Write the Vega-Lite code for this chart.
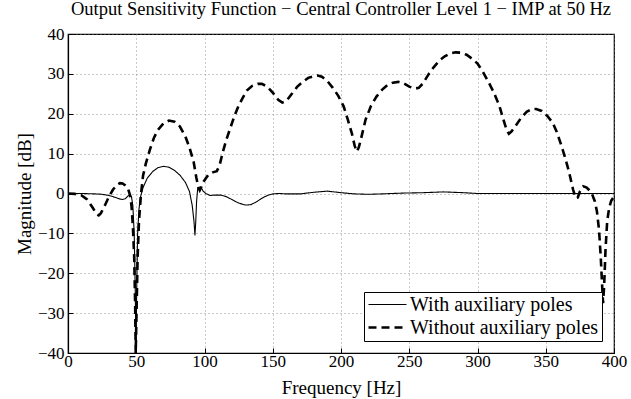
{
  "$schema": "https://vega.github.io/schema/vega-lite/v6.json",
  "autosize": {"type": "none"},
  "padding": {"left": 68, "top": 34, "right": 17, "bottom": 46},
  "width": 546,
  "height": 319,
  "background": "white",
  "title": {
    "text": "Output Sensitivity Function − Central Controller Level 1 − IMP at 50 Hz",
    "font": "Liberation Serif",
    "fontSize": 18.5,
    "fontWeight": "normal",
    "color": "black",
    "anchor": "middle",
    "offset": 7
  },
  "config": {
    "view": {"stroke": "black", "strokeWidth": 1.2},
    "axis": {
      "labelFont": "Liberation Serif",
      "labelFontSize": 17,
      "labelColor": "black",
      "titleFont": "Liberation Serif",
      "titleFontSize": 19,
      "titleFontWeight": "normal",
      "titleColor": "black",
      "domainColor": "black",
      "domainWidth": 1.2,
      "tickColor": "black",
      "tickSize": -5,
      "gridColor": "#777",
      "gridDash": [1, 3],
      "gridWidth": 0.8
    },
    "legend": {
      "labelFont": "Liberation Serif",
      "labelFontSize": 20,
      "labelColor": "black",
      "labelLimit": 400
    }
  },
  "data": {
    "values": [
      {"f": 0, "db": 0, "s": "With auxiliary poles"},
      {"f": 5, "db": 0, "s": "With auxiliary poles"},
      {"f": 10, "db": 0, "s": "With auxiliary poles"},
      {"f": 15, "db": -0.05, "s": "With auxiliary poles"},
      {"f": 20, "db": -0.1, "s": "With auxiliary poles"},
      {"f": 25, "db": -0.2, "s": "With auxiliary poles"},
      {"f": 30, "db": -0.5, "s": "With auxiliary poles"},
      {"f": 35, "db": -1.0, "s": "With auxiliary poles"},
      {"f": 38, "db": -1.4, "s": "With auxiliary poles"},
      {"f": 40, "db": -1.5, "s": "With auxiliary poles"},
      {"f": 42, "db": -1.3, "s": "With auxiliary poles"},
      {"f": 44, "db": -0.6, "s": "With auxiliary poles"},
      {"f": 45.5, "db": -0.4, "s": "With auxiliary poles"},
      {"f": 46.5, "db": -0.8, "s": "With auxiliary poles"},
      {"f": 47.5, "db": -3, "s": "With auxiliary poles"},
      {"f": 48.5, "db": -10, "s": "With auxiliary poles"},
      {"f": 49.3, "db": -25, "s": "With auxiliary poles"},
      {"f": 49.8, "db": -40, "s": "With auxiliary poles"},
      {"f": 50.3, "db": -25, "s": "With auxiliary poles"},
      {"f": 51, "db": -10, "s": "With auxiliary poles"},
      {"f": 52, "db": -4, "s": "With auxiliary poles"},
      {"f": 53, "db": -1, "s": "With auxiliary poles"},
      {"f": 55, "db": 1.5, "s": "With auxiliary poles"},
      {"f": 58, "db": 3.8, "s": "With auxiliary poles"},
      {"f": 62, "db": 5.5, "s": "With auxiliary poles"},
      {"f": 66, "db": 6.5, "s": "With auxiliary poles"},
      {"f": 70, "db": 6.8, "s": "With auxiliary poles"},
      {"f": 74, "db": 6.6, "s": "With auxiliary poles"},
      {"f": 78, "db": 5.8, "s": "With auxiliary poles"},
      {"f": 82, "db": 4.6, "s": "With auxiliary poles"},
      {"f": 86, "db": 2.8, "s": "With auxiliary poles"},
      {"f": 89, "db": 0.5, "s": "With auxiliary poles"},
      {"f": 91, "db": -3, "s": "With auxiliary poles"},
      {"f": 92.3, "db": -7, "s": "With auxiliary poles"},
      {"f": 93, "db": -10.5, "s": "With auxiliary poles"},
      {"f": 93.6, "db": -7, "s": "With auxiliary poles"},
      {"f": 94.2, "db": -2, "s": "With auxiliary poles"},
      {"f": 95, "db": 1.2, "s": "With auxiliary poles"},
      {"f": 96, "db": 1.6, "s": "With auxiliary poles"},
      {"f": 97.5, "db": 1.5, "s": "With auxiliary poles"},
      {"f": 99, "db": 0.6, "s": "With auxiliary poles"},
      {"f": 101, "db": 0, "s": "With auxiliary poles"},
      {"f": 104, "db": -0.5, "s": "With auxiliary poles"},
      {"f": 108, "db": -0.4, "s": "With auxiliary poles"},
      {"f": 112, "db": -0.4, "s": "With auxiliary poles"},
      {"f": 116, "db": -0.8, "s": "With auxiliary poles"},
      {"f": 120, "db": -1.5, "s": "With auxiliary poles"},
      {"f": 125, "db": -2.4, "s": "With auxiliary poles"},
      {"f": 130, "db": -2.9, "s": "With auxiliary poles"},
      {"f": 134, "db": -2.8, "s": "With auxiliary poles"},
      {"f": 138, "db": -2.1, "s": "With auxiliary poles"},
      {"f": 142, "db": -1.2, "s": "With auxiliary poles"},
      {"f": 146, "db": -0.5, "s": "With auxiliary poles"},
      {"f": 150, "db": -0.1, "s": "With auxiliary poles"},
      {"f": 155, "db": 0.0, "s": "With auxiliary poles"},
      {"f": 160, "db": -0.1, "s": "With auxiliary poles"},
      {"f": 170, "db": -0.1, "s": "With auxiliary poles"},
      {"f": 180, "db": 0.3, "s": "With auxiliary poles"},
      {"f": 190, "db": 0.6, "s": "With auxiliary poles"},
      {"f": 200, "db": 0.2, "s": "With auxiliary poles"},
      {"f": 210, "db": -0.1, "s": "With auxiliary poles"},
      {"f": 220, "db": -0.2, "s": "With auxiliary poles"},
      {"f": 230, "db": -0.1, "s": "With auxiliary poles"},
      {"f": 245, "db": 0.1, "s": "With auxiliary poles"},
      {"f": 260, "db": 0.2, "s": "With auxiliary poles"},
      {"f": 275, "db": 0.4, "s": "With auxiliary poles"},
      {"f": 290, "db": 0.2, "s": "With auxiliary poles"},
      {"f": 300, "db": 0, "s": "With auxiliary poles"},
      {"f": 320, "db": 0, "s": "With auxiliary poles"},
      {"f": 340, "db": 0, "s": "With auxiliary poles"},
      {"f": 360, "db": 0, "s": "With auxiliary poles"},
      {"f": 380, "db": 0, "s": "With auxiliary poles"},
      {"f": 400, "db": 0, "s": "With auxiliary poles"},

      {"f": 0, "db": 0, "s": "Without auxiliary poles"},
      {"f": 5, "db": -0.1, "s": "Without auxiliary poles"},
      {"f": 10, "db": -0.5, "s": "Without auxiliary poles"},
      {"f": 14, "db": -1.5, "s": "Without auxiliary poles"},
      {"f": 18, "db": -3.5, "s": "Without auxiliary poles"},
      {"f": 21, "db": -5.2, "s": "Without auxiliary poles"},
      {"f": 22.5, "db": -5.5, "s": "Without auxiliary poles"},
      {"f": 24, "db": -5, "s": "Without auxiliary poles"},
      {"f": 27, "db": -3, "s": "Without auxiliary poles"},
      {"f": 30, "db": -0.8, "s": "Without auxiliary poles"},
      {"f": 33, "db": 1.0, "s": "Without auxiliary poles"},
      {"f": 36, "db": 2.2, "s": "Without auxiliary poles"},
      {"f": 38, "db": 2.6, "s": "Without auxiliary poles"},
      {"f": 40, "db": 2.5, "s": "Without auxiliary poles"},
      {"f": 42, "db": 2, "s": "Without auxiliary poles"},
      {"f": 44, "db": 1.2, "s": "Without auxiliary poles"},
      {"f": 45.5, "db": -0.5, "s": "Without auxiliary poles"},
      {"f": 46.5, "db": -3, "s": "Without auxiliary poles"},
      {"f": 47.5, "db": -8, "s": "Without auxiliary poles"},
      {"f": 48.5, "db": -16, "s": "Without auxiliary poles"},
      {"f": 49.2, "db": -28, "s": "Without auxiliary poles"},
      {"f": 49.6, "db": -40, "s": "Without auxiliary poles"},
      {"f": 50.2, "db": -30, "s": "Without auxiliary poles"},
      {"f": 51, "db": -16, "s": "Without auxiliary poles"},
      {"f": 52, "db": -7, "s": "Without auxiliary poles"},
      {"f": 53.5, "db": 0, "s": "Without auxiliary poles"},
      {"f": 55, "db": 4.5, "s": "Without auxiliary poles"},
      {"f": 57, "db": 7.5, "s": "Without auxiliary poles"},
      {"f": 60, "db": 11, "s": "Without auxiliary poles"},
      {"f": 63, "db": 14, "s": "Without auxiliary poles"},
      {"f": 66, "db": 16, "s": "Without auxiliary poles"},
      {"f": 70, "db": 17.6, "s": "Without auxiliary poles"},
      {"f": 74, "db": 18.3, "s": "Without auxiliary poles"},
      {"f": 78, "db": 18, "s": "Without auxiliary poles"},
      {"f": 82, "db": 16.8, "s": "Without auxiliary poles"},
      {"f": 86, "db": 14.3, "s": "Without auxiliary poles"},
      {"f": 89, "db": 11.5, "s": "Without auxiliary poles"},
      {"f": 92, "db": 8, "s": "Without auxiliary poles"},
      {"f": 94, "db": 4, "s": "Without auxiliary poles"},
      {"f": 95.5, "db": 1.5, "s": "Without auxiliary poles"},
      {"f": 96.5, "db": 0.8, "s": "Without auxiliary poles"},
      {"f": 97.5, "db": 1.5, "s": "Without auxiliary poles"},
      {"f": 99, "db": 2.8, "s": "Without auxiliary poles"},
      {"f": 101, "db": 3.8, "s": "Without auxiliary poles"},
      {"f": 103, "db": 4.8, "s": "Without auxiliary poles"},
      {"f": 106, "db": 5.3, "s": "Without auxiliary poles"},
      {"f": 109, "db": 5.6, "s": "Without auxiliary poles"},
      {"f": 111, "db": 7, "s": "Without auxiliary poles"},
      {"f": 113.5, "db": 10.5, "s": "Without auxiliary poles"},
      {"f": 116, "db": 13.5, "s": "Without auxiliary poles"},
      {"f": 119, "db": 16.5, "s": "Without auxiliary poles"},
      {"f": 122, "db": 19.5, "s": "Without auxiliary poles"},
      {"f": 125, "db": 22, "s": "Without auxiliary poles"},
      {"f": 128, "db": 24, "s": "Without auxiliary poles"},
      {"f": 131, "db": 25.8, "s": "Without auxiliary poles"},
      {"f": 135, "db": 27, "s": "Without auxiliary poles"},
      {"f": 139, "db": 27.5, "s": "Without auxiliary poles"},
      {"f": 142, "db": 27.5, "s": "Without auxiliary poles"},
      {"f": 146, "db": 26.8, "s": "Without auxiliary poles"},
      {"f": 150, "db": 25.3, "s": "Without auxiliary poles"},
      {"f": 154, "db": 23.5, "s": "Without auxiliary poles"},
      {"f": 157, "db": 22.8, "s": "Without auxiliary poles"},
      {"f": 160, "db": 23.2, "s": "Without auxiliary poles"},
      {"f": 164, "db": 25, "s": "Without auxiliary poles"},
      {"f": 168, "db": 26.8, "s": "Without auxiliary poles"},
      {"f": 172, "db": 28, "s": "Without auxiliary poles"},
      {"f": 176, "db": 29, "s": "Without auxiliary poles"},
      {"f": 180, "db": 29.4, "s": "Without auxiliary poles"},
      {"f": 183, "db": 29.6, "s": "Without auxiliary poles"},
      {"f": 186, "db": 29.3, "s": "Without auxiliary poles"},
      {"f": 190, "db": 28.2, "s": "Without auxiliary poles"},
      {"f": 194, "db": 26.5, "s": "Without auxiliary poles"},
      {"f": 198, "db": 24.5, "s": "Without auxiliary poles"},
      {"f": 202, "db": 21.8, "s": "Without auxiliary poles"},
      {"f": 205, "db": 18.5, "s": "Without auxiliary poles"},
      {"f": 208, "db": 15, "s": "Without auxiliary poles"},
      {"f": 210, "db": 12, "s": "Without auxiliary poles"},
      {"f": 211.5, "db": 10.5, "s": "Without auxiliary poles"},
      {"f": 213, "db": 11.5, "s": "Without auxiliary poles"},
      {"f": 215, "db": 14.2, "s": "Without auxiliary poles"},
      {"f": 218, "db": 18.5, "s": "Without auxiliary poles"},
      {"f": 222, "db": 22, "s": "Without auxiliary poles"},
      {"f": 226, "db": 24.3, "s": "Without auxiliary poles"},
      {"f": 230, "db": 26, "s": "Without auxiliary poles"},
      {"f": 234, "db": 27.2, "s": "Without auxiliary poles"},
      {"f": 238, "db": 27.8, "s": "Without auxiliary poles"},
      {"f": 242, "db": 28, "s": "Without auxiliary poles"},
      {"f": 246, "db": 27.6, "s": "Without auxiliary poles"},
      {"f": 250, "db": 26.8, "s": "Without auxiliary poles"},
      {"f": 254, "db": 26.3, "s": "Without auxiliary poles"},
      {"f": 257, "db": 26.5, "s": "Without auxiliary poles"},
      {"f": 260, "db": 27.6, "s": "Without auxiliary poles"},
      {"f": 264, "db": 29.8, "s": "Without auxiliary poles"},
      {"f": 268, "db": 31.7, "s": "Without auxiliary poles"},
      {"f": 272, "db": 33.3, "s": "Without auxiliary poles"},
      {"f": 276, "db": 34.4, "s": "Without auxiliary poles"},
      {"f": 280, "db": 35.1, "s": "Without auxiliary poles"},
      {"f": 284, "db": 35.4, "s": "Without auxiliary poles"},
      {"f": 288, "db": 35.3, "s": "Without auxiliary poles"},
      {"f": 292, "db": 34.8, "s": "Without auxiliary poles"},
      {"f": 296, "db": 33.8, "s": "Without auxiliary poles"},
      {"f": 300, "db": 32.6, "s": "Without auxiliary poles"},
      {"f": 304, "db": 30.5, "s": "Without auxiliary poles"},
      {"f": 308, "db": 28, "s": "Without auxiliary poles"},
      {"f": 312, "db": 25.3, "s": "Without auxiliary poles"},
      {"f": 316, "db": 22, "s": "Without auxiliary poles"},
      {"f": 319, "db": 18.5, "s": "Without auxiliary poles"},
      {"f": 321.5, "db": 15.8, "s": "Without auxiliary poles"},
      {"f": 323, "db": 15, "s": "Without auxiliary poles"},
      {"f": 325, "db": 15.6, "s": "Without auxiliary poles"},
      {"f": 328, "db": 17, "s": "Without auxiliary poles"},
      {"f": 332, "db": 19, "s": "Without auxiliary poles"},
      {"f": 336, "db": 20.5, "s": "Without auxiliary poles"},
      {"f": 340, "db": 21.2, "s": "Without auxiliary poles"},
      {"f": 343, "db": 21.2, "s": "Without auxiliary poles"},
      {"f": 347, "db": 20.7, "s": "Without auxiliary poles"},
      {"f": 351, "db": 19.5, "s": "Without auxiliary poles"},
      {"f": 355, "db": 17.8, "s": "Without auxiliary poles"},
      {"f": 358, "db": 15.5, "s": "Without auxiliary poles"},
      {"f": 361, "db": 12.5, "s": "Without auxiliary poles"},
      {"f": 364, "db": 9.2, "s": "Without auxiliary poles"},
      {"f": 367, "db": 5.5, "s": "Without auxiliary poles"},
      {"f": 370, "db": 1, "s": "Without auxiliary poles"},
      {"f": 372, "db": -1.2, "s": "Without auxiliary poles"},
      {"f": 373.5, "db": -1.0, "s": "Without auxiliary poles"},
      {"f": 375, "db": 0.5, "s": "Without auxiliary poles"},
      {"f": 377.5, "db": 1.8, "s": "Without auxiliary poles"},
      {"f": 380, "db": 1.5, "s": "Without auxiliary poles"},
      {"f": 382, "db": 0.8, "s": "Without auxiliary poles"},
      {"f": 384, "db": -0.2, "s": "Without auxiliary poles"},
      {"f": 386, "db": -2, "s": "Without auxiliary poles"},
      {"f": 387.5, "db": -4.5, "s": "Without auxiliary poles"},
      {"f": 389, "db": -9, "s": "Without auxiliary poles"},
      {"f": 390.3, "db": -16, "s": "Without auxiliary poles"},
      {"f": 391.3, "db": -23, "s": "Without auxiliary poles"},
      {"f": 392, "db": -27.5, "s": "Without auxiliary poles"},
      {"f": 392.8, "db": -23, "s": "Without auxiliary poles"},
      {"f": 393.8, "db": -14, "s": "Without auxiliary poles"},
      {"f": 395, "db": -7, "s": "Without auxiliary poles"},
      {"f": 396.5, "db": -3.5, "s": "Without auxiliary poles"},
      {"f": 398, "db": -1.8, "s": "Without auxiliary poles"},
      {"f": 400, "db": -0.8, "s": "Without auxiliary poles"}
    ]
  },
  "mark": {"type": "line", "color": "black", "clip": true},
  "encoding": {
    "x": {
      "field": "f",
      "type": "quantitative",
      "title": "Frequency [Hz]",
      "scale": {"domain": [0, 400], "nice": false, "zero": false},
      "axis": {"values": [0, 50, 100, 150, 200, 250, 300, 350, 400], "labelPadding": 5, "titleY": 25, "titleBaseline": "top", "labelFlush": false}
    },
    "y": {
      "field": "db",
      "type": "quantitative",
      "title": "Magnitude [dB]",
      "scale": {"domain": [-40, 40], "nice": false, "zero": false},
      "axis": {"values": [-40, -30, -20, -10, 0, 10, 20, 30, 40], "labelPadding": 9, "titlePadding": 3, "labelFlush": false}
    },
    "strokeDash": {
      "field": "s",
      "type": "nominal",
      "title": null,
      "scale": {"domain": ["With auxiliary poles", "Without auxiliary poles"], "range": [[1, 0], [8, 5]]},
      "legend": {
        "orient": "bottom-right",
        "offset": 12,
        "fillColor": "white",
        "strokeColor": "black",
        "padding": 3,
        "symbolType": "stroke",
        "symbolSize": 1444,
        "symbolStrokeColor": "black",
        "clipHeight": 19,
        "rowPadding": 2,
        "labelOffset": 2,
        "labelLimit": 400
      }
    },
    "strokeWidth": {
      "field": "s",
      "type": "nominal",
      "title": null,
      "scale": {"domain": ["With auxiliary poles", "Without auxiliary poles"], "range": [1.1, 2.6]},
      "legend": {
        "orient": "bottom-right",
        "offset": 12,
        "fillColor": "white",
        "strokeColor": "black",
        "padding": 3,
        "symbolType": "stroke",
        "symbolSize": 1444,
        "symbolStrokeColor": "black",
        "clipHeight": 19,
        "rowPadding": 2,
        "labelOffset": 2,
        "labelLimit": 400
      }
    }
  }
}
